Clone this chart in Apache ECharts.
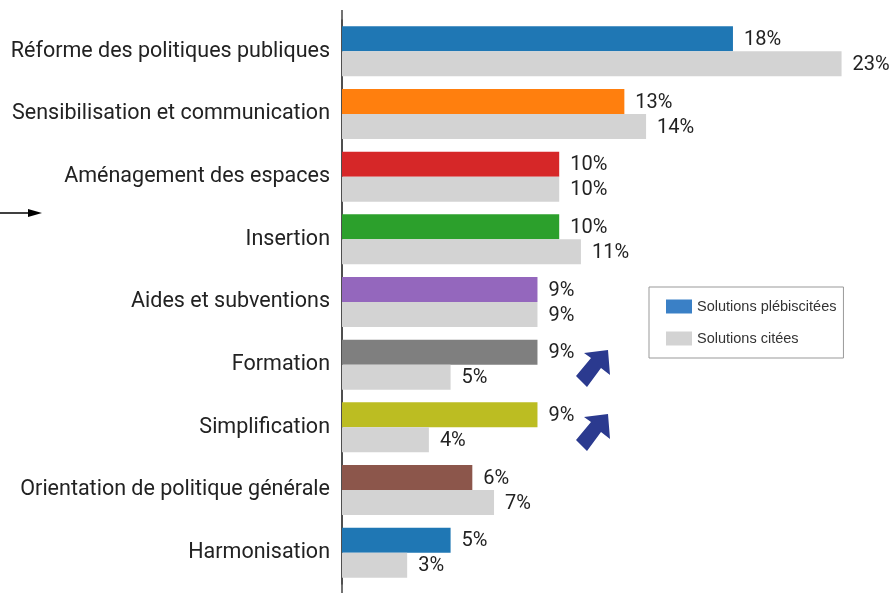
<!DOCTYPE html>
<html>
<head>
<meta charset="utf-8">
<title>Solutions</title>
<script src="https://cdn.jsdelivr.net/npm/echarts@6/dist/echarts.min.js"></script>
<style>
  html, body { margin: 0; padding: 0; background: #fff; }
  #chart { width: 890px; height: 593px; }
</style>
</head>
<body>
<div id="chart"></div>
<script>
// données
var categories = [
  'Réforme des politiques publiques',
  'Sensibilisation et communication',
  'Aménagement des espaces',
  'Insertion',
  'Aides et subventions',
  'Formation',
  'Simplification',
  'Orientation de politique générale',
  'Harmonisation'
]
var plebiscitees = [18, 13, 10, 10, 9, 9, 9, 6, 5]
var citees = [23, 14, 10, 11, 9, 5, 4, 7, 3]
var barColors = ['#1f77b4', '#ff7f0e', '#d62728', '#2ca02c', '#9467bd', '#7f7f7f', '#bcbd22', '#8c564b', '#1f77b4']

var chart = echarts.init(document.getElementById('chart'))

// flèche bleue (décor) vers le haut à droite
function blueArrow(dy) {
  return {
    type: 'polygon',
    shape: {
      points: [
        [608, 350 + dy], [610, 375 + dy], [601, 368 + dy], [587, 387 + dy],
        [576, 376 + dy], [591, 358 + dy], [584, 353 + dy]
      ]
    },
    style: { fill: '#2b3a8f' }
  }
}

var labelStyle = {
  show: true,
  position: 'right',
  distance: 11,
  offset: [0, 1],
  fontFamily: 'Roboto',
  fontSize: 20,
  color: '#222',
  formatter: '{c}%'
}

var option = {
  animation: false,
  grid: {
    left: 342,
    top: 20,
    width: 543,
    height: 564
  },
  legend: {
    orient: 'vertical',
    left: 649,
    top: 287,
    padding: [12, 7, 12, 17],
    itemGap: 17,
    itemWidth: 26,
    itemHeight: 14,
    icon: 'rect',
    borderColor: '#999',
    borderWidth: 1,
    backgroundColor: '#fff',
    textStyle: {
      fontFamily: 'Liberation Sans',
      fontSize: 14.5,
      color: '#333'
    },
    data: [
      { name: 'Solutions plébiscitées', itemStyle: { color: '#3a80c6' } },
      { name: 'Solutions citées', itemStyle: { color: '#d3d3d3' } }
    ]
  },
  xAxis: {
    type: 'value',
    min: 0,
    max: 25,
    show: false
  },
  yAxis: {
    type: 'category',
    inverse: true,
    data: categories,
    axisLine: { lineStyle: { color: '#444', width: 1.5 } },
    axisTick: { alignWithLabel: true, length: 6, lineStyle: { color: '#444' } },
    axisLabel: {
      margin: 12,
      padding: [4, 0, 0, 0],
      fontFamily: 'Roboto',
      fontSize: 21.5,
      color: '#222'
    }
  },
  series: [
    {
      name: 'Solutions plébiscitées',
      type: 'bar',
      barWidth: 25,
      barGap: '0%',
      itemStyle: { color: '#3a80c6' },
      label: labelStyle,
      data: plebiscitees.map(function (v, i) {
        return { value: v, itemStyle: { color: barColors[i] } }
      })
    },
    {
      name: 'Solutions citées',
      type: 'bar',
      barWidth: 25,
      barGap: '0%',
      itemStyle: { color: '#d3d3d3' },
      label: labelStyle,
      data: citees
    }
  ],
  graphic: [
    // prolongement de l'axe vertical
    { type: 'line', shape: { x1: 342, y1: 10, x2: 342, y2: 593 }, style: { stroke: '#444', lineWidth: 1.5 } },
    // flèche noire à gauche
    { type: 'line', shape: { x1: 0, y1: 213, x2: 30, y2: 213 }, style: { stroke: '#000', lineWidth: 1.5 } },
    { type: 'polygon', shape: { points: [[28, 209], [42, 213], [28, 217]] }, style: { fill: '#000' } },
    blueArrow(0),
    blueArrow(64)
  ]
}

chart.setOption(option)
</script>
</body>
</html>
